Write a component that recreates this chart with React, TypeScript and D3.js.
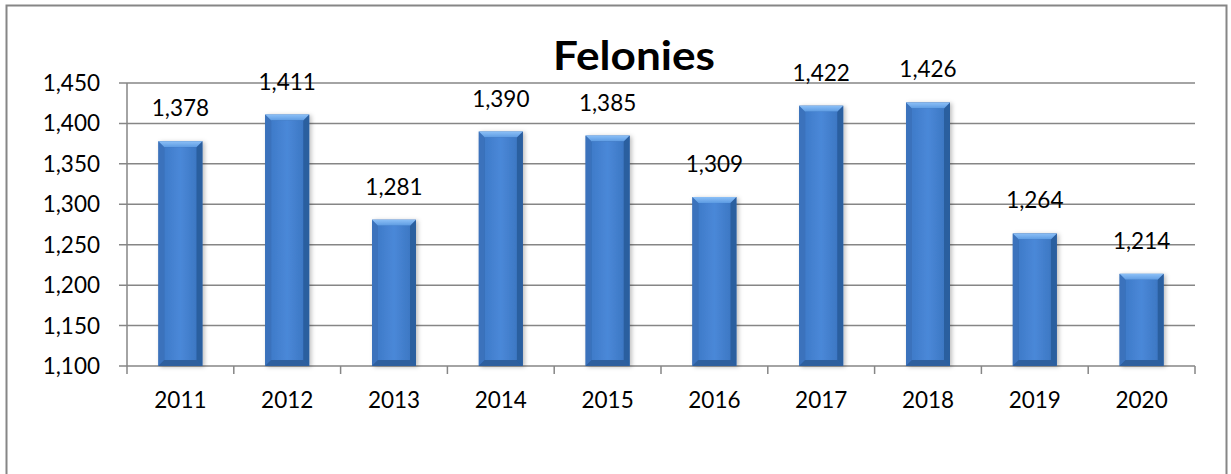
import React, { useEffect, useRef } from 'react';
import * as d3 from 'd3';

const years = ['2011', '2012', '2013', '2014', '2015', '2016', '2017', '2018', '2019', '2020'];
const felonies = [1378, 1411, 1281, 1390, 1385, 1309, 1422, 1426, 1264, 1214];
const yTicks = [1100, 1150, 1200, 1250, 1300, 1350, 1400, 1450];

const FONT = 'Lato, Carlito, Calibri, sans-serif';

export default function App() {
  const svgRef = useRef<SVGSVGElement>(null);

  useEffect(() => {
    if (!svgRef.current) return;
    const width = 1231;
    const height = 474;
    const margin = { top: 83, right: 36, bottom: 108, left: 127 };

    const svg = d3.select(svgRef.current);
    svg.selectAll('*').remove();
    svg.attr('width', width).attr('height', height).attr('viewBox', `0 0 ${width} ${height}`);

    const defs = svg.append('defs');
    const face = defs.append('linearGradient').attr('id', 'face').attr('x1', 0).attr('x2', 1).attr('y1', 0).attr('y2', 0);
    face.append('stop').attr('offset', '0%').attr('stop-color', '#3f7bc9');
    face.append('stop').attr('offset', '50%').attr('stop-color', '#4a88d8');
    face.append('stop').attr('offset', '100%').attr('stop-color', '#3d78c4');
    const top = defs.append('linearGradient').attr('id', 'topbevel').attr('x1', 0).attr('x2', 0).attr('y1', 0).attr('y2', 1);
    top.append('stop').attr('offset', '0%').attr('stop-color', '#8cc0f7');
    top.append('stop').attr('offset', '100%').attr('stop-color', '#5d9be2');
    const shadow = defs.append('filter').attr('id', 'shadow').attr('x', '-20%').attr('y', '-10%').attr('width', '150%').attr('height', '120%');
    shadow.append('feDropShadow').attr('dx', 2).attr('dy', 1).attr('stdDeviation', 2).attr('flood-color', '#000').attr('flood-opacity', 0.25);

    // outer chart border (bottom edge falls outside the picture)
    svg.append('path')
      .attr('d', `M6.5,${height + 10} V5.5 H1226.5 V${height + 10}`)
      .attr('fill', 'none')
      .attr('stroke', '#868686')
      .attr('stroke-width', 2);

    const x = d3.scaleBand()
      .domain(years)
      .range([margin.left, width - margin.right]);

    const y = d3.scaleLinear()
      .domain([1100, 1450])
      .range([height - margin.bottom, margin.top]);

    // gridlines
    svg.append('g')
      .selectAll('line')
      .data(yTicks)
      .join('line')
        .attr('x1', margin.left - 8)
        .attr('x2', width - margin.right)
        .attr('y1', d => y(d))
        .attr('y2', d => y(d))
        .attr('stroke', '#868686')
        .attr('stroke-width', 1.5);

    // y axis line
    svg.append('line')
      .attr('x1', margin.left).attr('x2', margin.left)
      .attr('y1', y(1450)).attr('y2', y(1100))
      .attr('stroke', '#868686').attr('stroke-width', 1.5);

    // x axis tick marks at category boundaries
    const bounds = years.map(d => x(d)!).concat([width - margin.right]);
    svg.append('g')
      .selectAll('line')
      .data(bounds)
      .join('line')
        .attr('x1', d => d).attr('x2', d => d)
        .attr('y1', y(1100)).attr('y2', y(1100) + 8)
        .attr('stroke', '#868686').attr('stroke-width', 1.5);

    // y tick labels
    svg.append('g')
      .selectAll('text')
      .data(yTicks)
      .join('text')
        .attr('x', 100)
        .attr('y', d => y(d) + 8)
        .attr('text-anchor', 'end')
        .style('font-family', FONT)
        .style('font-size', '22.5px')
        .attr('fill', '#000')
        .text(d => d3.format(',')(d));

    // x tick labels
    svg.append('g')
      .selectAll('text')
      .data(years)
      .join('text')
        .attr('x', d => x(d)! + x.bandwidth() / 2)
        .attr('y', 408)
        .attr('text-anchor', 'middle')
        .style('font-family', FONT)
        .style('font-size', '22.5px')
        .attr('fill', '#000')
        .text(d => d);

    // bevelled bars
    const bw = 44;
    const bv = 6;
    const bars = svg.append('g')
      .selectAll('g')
      .data(years.map((yr, i) => ({ yr, v: felonies[i] })))
      .join('g')
        .attr('filter', 'url(#shadow)');

    const pts = (p: number[][]) => p.map(q => q.join(',')).join(' ');

    bars.each(function (d) {
      const g = d3.select(this);
      const cx = x(d.yr)! + x.bandwidth() / 2;
      const x0 = cx - bw / 2;
      const x1 = cx + bw / 2;
      const y0 = y(d.v);
      const y1 = y(1100);
      g.append('rect').attr('x', x0).attr('y', y0).attr('width', bw).attr('height', y1 - y0).attr('fill', '#2f65ad');
      g.append('polygon')
        .attr('points', pts([[x0, y0], [x0 + bv, y0 + bv], [x0 + bv, y1 - bv], [x0, y1]]))
        .attr('fill', '#3a72bc');
      g.append('polygon')
        .attr('points', pts([[x1, y0], [x1 - bv, y0 + bv], [x1 - bv, y1 - bv], [x1, y1]]))
        .attr('fill', '#2c5e9f');
      g.append('polygon')
        .attr('points', pts([[x0, y1], [x0 + bv, y1 - bv], [x1 - bv, y1 - bv], [x1, y1]]))
        .attr('fill', '#2d5e9e');
      g.append('polygon')
        .attr('points', pts([[x0, y0], [x0 + bv, y0 + bv], [x1 - bv, y0 + bv], [x1, y0]]))
        .attr('fill', 'url(#topbevel)');
      g.append('rect')
        .attr('x', x0 + bv).attr('y', y0 + bv)
        .attr('width', bw - 2 * bv).attr('height', Math.max(0, y1 - y0 - 2 * bv))
        .attr('fill', 'url(#face)');
    });

    // value labels
    svg.append('g')
      .selectAll('text')
      .data(years.map((yr, i) => ({ yr, v: felonies[i] })))
      .join('text')
        .attr('x', d => x(d.yr)! + x.bandwidth() / 2)
        .attr('y', d => y(d.v) - 25)
        .attr('text-anchor', 'middle')
        .style('font-family', FONT)
        .style('font-size', '22.5px')
        .attr('fill', '#000')
        .text(d => d3.format(',')(d.v));

    // title
    svg.append('text')
      .attr('x', 634)
      .attr('y', 70)
      .attr('text-anchor', 'middle')
      .attr('textLength', 162)
      .attr('lengthAdjust', 'spacingAndGlyphs')
      .style('font-family', FONT)
      .style('font-size', '40px')
      .style('font-weight', 'bold')
      .attr('fill', '#000')
      .text('Felonies');
  }, []);

  return (
    <div style={{ position: 'absolute', left: 0, top: 0, width: 1231, height: 474, overflow: 'hidden', background: '#fff' }}>
      <svg ref={svgRef} style={{ display: 'block' }}></svg>
    </div>
  );
}
